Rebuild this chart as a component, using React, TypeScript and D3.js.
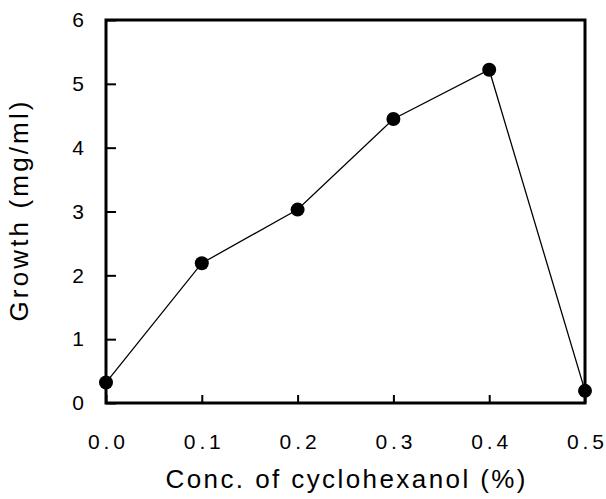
import { useEffect, useRef } from "react";
import * as d3 from "d3";

const conc = [0.0, 0.1, 0.2, 0.3, 0.4, 0.5];
const growth = [0.32, 2.19, 3.03, 4.45, 5.22, 0.19];
const xTicks = [0.0, 0.1, 0.2, 0.3, 0.4, 0.5];
const yTicks = [0, 1, 2, 3, 4, 5, 6];
const xTitle = "Conc. of cyclohexanol (%)";
const yTitle = "Growth (mg/ml)";

export default function App() {
  const svgRef = useRef<SVGSVGElement>(null);

  useEffect(() => {
    const width = 606,
      height = 499;
    const margin = { top: 20, right: 21, bottom: 96, left: 106 },
      wt = width - margin.left - margin.right,
      ht = height - margin.top - margin.bottom;

    d3.select(svgRef.current).selectAll("*").remove();

    const svg = d3
      .select(svgRef.current)
      .attr("width", width)
      .attr("height", height)
      .append("g")
      .attr("transform", `translate(${margin.left},${margin.top})`);

    const x = d3.scaleLinear().domain([0, 0.5]).range([0, wt]);
    const y = d3.scaleLinear().domain([0, 6]).range([ht, 0]);

    const font = "'Liberation Sans', Arial, Helvetica, sans-serif";

    // x axis
    const gx = svg
      .append("g")
      .attr("transform", `translate(0,${ht})`)
      .call(
        d3
          .axisBottom(x)
          .tickValues(xTicks)
          .tickFormat(d3.format(".1f"))
          .tickSize(-8)
          .tickPadding(31)
      );
    gx.select(".domain").remove();
    gx.selectAll(".tick line").attr("stroke", "#000").attr("stroke-width", 2);
    gx.selectAll(".tick text")
      .attr("fill", "#000")
      .style("font-family", font)
      .style("font-size", "21px")
      .attr("textLength", 37)
      .attr("lengthAdjust", "spacing");

    // y axis
    const gy = svg
      .append("g")
      .call(
        d3
          .axisLeft(y)
          .tickValues(yTicks)
          .tickFormat(d3.format("d"))
          .tickSize(-10)
          .tickPadding(22)
      );
    gy.select(".domain").remove();
    gy.selectAll(".tick line").attr("stroke", "#000").attr("stroke-width", 2);
    gy.selectAll(".tick text")
      .attr("fill", "#000")
      .style("font-family", font)
      .style("font-size", "21px");

    // frame
    svg
      .append("rect")
      .attr("x", 0)
      .attr("y", 0)
      .attr("width", wt)
      .attr("height", ht)
      .attr("fill", "none")
      .attr("stroke", "#000")
      .attr("stroke-width", 3);

    const pts = conc.map((c, i) => [c, growth[i]] as [number, number]);

    // line
    svg
      .append("path")
      .datum(pts)
      .attr("fill", "none")
      .attr("stroke", "#000")
      .attr("stroke-width", 1.3)
      .attr(
        "d",
        d3
          .line<[number, number]>()
          .x((d) => x(d[0]))
          .y((d) => y(d[1]))
      );

    // points
    svg
      .selectAll("circle")
      .data(pts)
      .join("circle")
      .attr("cx", (d) => x(d[0]))
      .attr("cy", (d) => y(d[1]))
      .attr("r", 7)
      .attr("fill", "#000");

    // x-axis label
    svg
      .append("text")
      .attr("text-anchor", "middle")
      .attr("x", wt / 2)
      .attr("y", ht + 85)
      .attr("textLength", 360)
      .attr("lengthAdjust", "spacing")
      .style("font-family", font)
      .style("font-size", "26px")
      .text(xTitle);

    // y-axis label
    svg
      .append("text")
      .attr("text-anchor", "middle")
      .attr("transform", "rotate(-90)")
      .attr("x", -ht / 2)
      .attr("y", -margin.left + 28)
      .attr("textLength", 220)
      .attr("lengthAdjust", "spacing")
      .style("font-family", font)
      .style("font-size", "26px")
      .text(yTitle);
  }, []);

  return (
    <div style={{ position: "absolute", left: 0, top: 0 }}>
      <svg ref={svgRef} style={{ display: "block", background: "#fff" }}></svg>
    </div>
  );
}
